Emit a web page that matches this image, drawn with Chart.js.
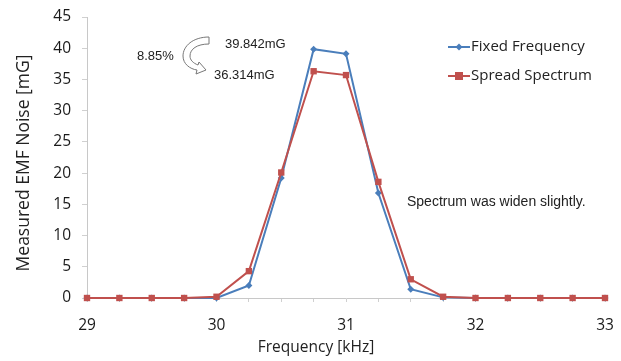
<!DOCTYPE html>
<html>
<head>
<meta charset="utf-8">
<script src="https://cdn.jsdelivr.net/npm/chart.js@4.4.1/dist/chart.umd.min.js"></script>
<style>
  html, body { margin: 0; padding: 0; background: #fff; }
  #wrap { width: 621px; height: 361px; }
</style>
</head>
<body>
<div id="wrap"><canvas id="grafico" width="621" height="361"></canvas></div>
<script>
// frecuencias en kHz
const frecuencias = [29, 29.25, 29.5, 29.75, 30, 30.25, 30.5, 30.75, 31, 31.25, 31.5, 31.75, 32, 32.25, 32.5, 32.75, 33];
const fixedFreq = [0, 0, 0, 0, 0, 2.0, 19.2, 39.842, 39.1, 16.8, 1.4, 0.1, 0, 0, 0, 0, 0];
const spreadSpec = [0, 0, 0, 0, 0.2, 4.3, 20.1, 36.314, 35.7, 18.6, 3.0, 0.2, 0, 0, 0, 0, 0];
const yTicks = [0, 5, 10, 15, 20, 25, 30, 35, 40, 45];
const xLabels = [29, 30, 31, 32, 33];

const azul = "#4a7ebb";
const rojo = "#c0504d";

function puntos(vals) {
  return frecuencias.map((f, i) => ({ x: f, y: vals[i] }));
}

const notas = {
  id: "notas",
  afterDraw(chart) {
    const c = chart.ctx;
    c.save();
    c.fillStyle = "#222";
    c.textBaseline = "middle";

    // titulos de ejes
    c.font = "15.5px 'Open Sans'";
    c.textAlign = "center";
    c.fillText("Frequency [kHz]", 316, 348);
    c.save();
    c.translate(24, 163);
    c.rotate(-Math.PI / 2);
    c.font = "17.5px 'Open Sans'";
    c.fillText("Measured EMF Noise [mG]", 0, 0);
    c.restore();

    // textos
    c.font = "13px 'Liberation Sans'";
    c.textAlign = "left";
    c.fillText("8.85%", 137, 56);
    c.fillText("39.842mG", 225, 44);
    c.fillText("36.314mG", 214, 75);
    c.font = "14px 'Liberation Sans'";
    c.fillText("Spectrum was widen slightly.", 407, 202);

    // flecha curva
    c.strokeStyle = "#777";
    c.lineWidth = 1;
    c.fillStyle = "#fff";
    c.beginPath();
    c.moveTo(209, 37);
    c.bezierCurveTo(193, 37, 183, 46, 183, 56);
    c.bezierCurveTo(183, 64, 190, 69, 197, 70);
    c.lineTo(196, 74);
    c.lineTo(206, 70);
    c.lineTo(199, 62);
    c.lineTo(198, 65);
    c.bezierCurveTo(193, 63, 190, 60, 190, 56);
    c.bezierCurveTo(190, 49, 197, 44, 209, 44);
    c.closePath();
    c.fill();
    c.stroke();

    // leyenda
    const items = [
      { t: "Fixed Frequency", col: azul, y: 47, forma: "rombo" },
      { t: "Spread Spectrum", col: rojo, y: 76, forma: "cuadro" }
    ];
    c.font = "15px 'Open Sans'";
    items.forEach(it => {
      c.strokeStyle = it.col;
      c.lineWidth = 2;
      c.beginPath();
      c.moveTo(448, it.y);
      c.lineTo(470, it.y);
      c.stroke();
      c.fillStyle = it.col;
      if (it.forma === "rombo") {
        c.beginPath();
        c.moveTo(459, it.y - 3.5);
        c.lineTo(462.5, it.y);
        c.lineTo(459, it.y + 3.5);
        c.lineTo(455.5, it.y);
        c.closePath();
        c.fill();
      } else {
        c.fillRect(455, it.y - 4, 8, 8);
      }
      c.fillStyle = "#222";
      c.fillText(it.t, 471, it.y);
    });
    c.restore();
  }
};

const ctx = document.getElementById("grafico").getContext("2d");
const grafico = new Chart(ctx, {
  type: "line",
  data: {
    datasets: [
      {
        label: "Fixed Frequency",
        data: puntos(fixedFreq),
        borderColor: azul,
        backgroundColor: azul,
        borderWidth: 2,
        pointStyle: "rectRot",
        pointRadius: 3.5,
        pointBorderWidth: 0,
        order: 1,
        clip: false,
        tension: 0
      },
      {
        label: "Spread Spectrum",
        data: puntos(spreadSpec),
        borderColor: rojo,
        backgroundColor: rojo,
        borderWidth: 2,
        pointStyle: "rect",
        pointRadius: 4.5,
        pointBorderWidth: 0,
        order: 0,
        clip: false,
        tension: 0
      }
    ]
  },
  plugins: [notas],
  options: {
    animation: false,
    responsive: false,
    layout: { padding: { top: 17, right: 16, left: 0, bottom: 0 } },
    plugins: {
      legend: { display: false },
      tooltip: { enabled: false }
    },
    scales: {
      x: {
        type: "linear",
        min: 29,
        max: 33,
        afterBuildTicks(scale) {
          scale.ticks = frecuencias.map(v => ({ value: v }));
        },
        afterFit(scale) {
          scale.height = 63;
          scale.paddingLeft = 0;
          scale.paddingRight = 0;
        },
        grid: {
          drawOnChartArea: false,
          color: "#d0d0d0",
          tickLength: 4
        },
        border: { color: "#c8c8c8", width: 1 },
        ticks: {
          autoSkip: false,
          maxRotation: 0,
          padding: 14,
          color: "#1a1a1a",
          font: { family: "'Open Sans'", size: 15.5 },
          callback: v => (xLabels.includes(v) ? String(v) : "")
        }
      },
      y: {
        min: 0,
        max: 45,
        afterBuildTicks(scale) {
          scale.ticks = yTicks.map(v => ({ value: v }));
        },
        afterFit(scale) {
          scale.width = 87;
          scale.paddingTop = 0;
          scale.paddingBottom = 0;
        },
        grid: {
          drawOnChartArea: false,
          color: "#d0d0d0",
          tickLength: 5
        },
        border: { color: "#c8c8c8", width: 1 },
        ticks: {
          padding: 11,
          color: "#1a1a1a",
          font: { family: "'Open Sans'", size: 15.5 }
        }
      }
    }
  }
});
</script>
</body>
</html>
